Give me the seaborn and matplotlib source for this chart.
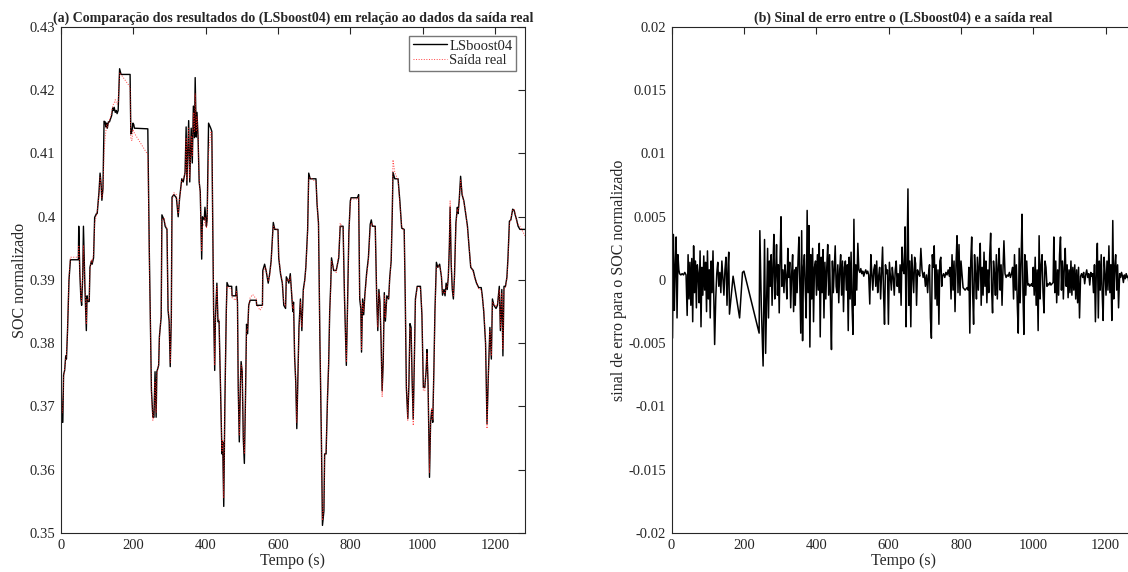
import numpy as np
import pandas as pd
import matplotlib
matplotlib.use("Agg")
import matplotlib.pyplot as plt
import seaborn as sns
from matplotlib.ticker import FuncFormatter, MultipleLocator

# ---------------- data: SOC (model vs real) ----------------
tempo = [0, 3, 5, 7, 10, 13, 15, 18, 22, 26,
         48, 49, 52, 55, 57, 60, 62, 66, 70, 72,
         74, 78, 80, 84, 86, 90, 93, 98, 100, 105,
         108, 111, 113, 116, 119, 122, 124, 126, 128, 131,
         134, 137, 140, 143, 145, 147, 150, 153, 155, 158,
         162, 166, 191, 193, 196, 199, 201, 203, 240, 244,
         250, 254, 257, 260, 263, 265, 270, 272, 277, 279,
         285, 288, 293, 296, 299, 302, 305, 307, 312, 319,
         324, 328, 334, 338, 343, 346, 348, 353, 356, 360,
         363, 366, 369, 371, 374, 376, 379, 382, 385, 389,
         391, 396, 398, 402, 404, 408, 414, 417, 422, 425,
         427, 431, 434, 437, 441, 445, 447, 450, 453, 457,
         459, 463, 472, 473, 483, 485, 488, 490, 493, 496,
         498, 501, 504, 507, 510, 513, 516, 519, 523, 530,
         540, 541, 550, 557, 558, 563, 567, 573, 577, 581,
         587, 591, 600, 602, 607, 612, 616, 621, 623, 627,
         630, 634, 638, 641, 643, 646, 649, 652, 655, 658,
         662, 666, 670, 674, 677, 682, 685, 689, 705, 708,
         712, 716, 720, 723, 727, 729, 733, 737, 740, 743,
         746, 748, 754, 761, 768, 772, 780, 784, 786, 789,
         792, 796, 800, 802, 820, 823, 826, 829, 831, 834,
         837, 840, 845, 850, 855, 858, 861, 869, 873, 876,
         879, 882, 885, 888, 891, 894, 897, 901, 906, 909,
         913, 916, 918, 923, 932, 937, 942, 949, 952, 955,
         959, 962, 965, 968, 971, 974, 977, 980, 985, 994,
         998, 1002, 1006, 1010, 1012, 1015, 1019, 1022, 1025, 1028,
         1031, 1034, 1038, 1042, 1047, 1052, 1055, 1059, 1062, 1065,
         1068, 1071, 1074, 1076, 1079, 1082, 1085, 1088, 1092, 1096,
         1098, 1101, 1105, 1109, 1114, 1119, 1124, 1128, 1133, 1140,
         1144, 1149, 1155, 1162, 1165, 1169, 1174, 1178, 1182, 1186,
         1190, 1193, 1197, 1203, 1207, 1212, 1215, 1219, 1222, 1225,
         1229, 1233, 1236, 1240, 1244, 1249, 1253, 1256, 1260, 1264,
         1269, 1283]

soc_lsboost = [0.374, 0.3675, 0.3675, 0.375, 0.3757, 0.378, 0.3775, 0.382, 0.390, 0.3932,
               0.3932, 0.3985, 0.391, 0.387, 0.386, 0.3905, 0.3985, 0.389, 0.382, 0.3875,
               0.3866, 0.3866, 0.392, 0.393, 0.3925, 0.3935, 0.3999, 0.4005, 0.4005, 0.4039,
               0.4069, 0.405, 0.4026, 0.4045, 0.4151, 0.415, 0.4142, 0.4148, 0.414, 0.415,
               0.415, 0.4155, 0.416, 0.4172, 0.4168, 0.4173, 0.4165, 0.4168, 0.4163, 0.4168,
               0.4234, 0.4225, 0.4225, 0.4131, 0.4135, 0.4148, 0.4146, 0.414, 0.4139, 0.395,
               0.3726, 0.3683, 0.3683, 0.3755, 0.3683, 0.3755, 0.3765, 0.381, 0.3842, 0.4003,
               0.3995, 0.3985, 0.398, 0.3852, 0.3835, 0.3763, 0.384, 0.4031, 0.4035, 0.403,
               0.400, 0.403, 0.406, 0.4055, 0.407, 0.4142, 0.405, 0.4152, 0.4055, 0.414,
               0.4085, 0.4175, 0.4125, 0.422, 0.4126, 0.4165, 0.4125, 0.4055, 0.404, 0.3933,
               0.400, 0.3995, 0.4015, 0.3985, 0.3995, 0.4148, 0.414, 0.4135, 0.385, 0.3757,
               0.384, 0.3895, 0.3834, 0.3835, 0.373, 0.3625, 0.3644, 0.3542, 0.370, 0.385,
               0.3896, 0.389, 0.389, 0.3875, 0.3875, 0.389, 0.3865, 0.3731, 0.3644, 0.3735,
               0.3771, 0.3755, 0.365, 0.361, 0.371, 0.383, 0.3815, 0.386, 0.3868, 0.3868,
               0.3868, 0.386, 0.386, 0.386, 0.3915, 0.3925, 0.3915, 0.3895, 0.391, 0.393,
               0.3991, 0.398, 0.398, 0.3935, 0.391, 0.3895, 0.386, 0.3855, 0.3905, 0.390,
               0.3895, 0.391, 0.3875, 0.385, 0.3865, 0.3778, 0.374, 0.3665, 0.3745, 0.3825,
               0.387, 0.382, 0.3885, 0.390, 0.392, 0.398, 0.4069, 0.406, 0.406, 0.402,
               0.399, 0.380, 0.365, 0.3512, 0.3535, 0.3625, 0.3625, 0.3715, 0.3765, 0.385,
               0.3895, 0.3935, 0.3915, 0.3915, 0.3935, 0.3985, 0.3985, 0.387, 0.383, 0.3765,
               0.385, 0.3975, 0.4025, 0.403, 0.403, 0.4035, 0.387, 0.3855, 0.3786, 0.387,
               0.3845, 0.3875, 0.391, 0.3935, 0.3988, 0.3995, 0.3985, 0.3985, 0.387, 0.382,
               0.3885, 0.3865, 0.3805, 0.3725, 0.377, 0.388, 0.3835, 0.3875, 0.387, 0.3904,
               0.393, 0.4005, 0.407, 0.406, 0.406, 0.4025, 0.3982, 0.398, 0.387, 0.373,
               0.3681, 0.3735, 0.3831, 0.3825, 0.374, 0.368, 0.377, 0.387, 0.389, 0.389,
               0.3845, 0.373, 0.373, 0.376, 0.379, 0.3735, 0.3588, 0.3675, 0.3694, 0.3675,
               0.3755, 0.385, 0.3928, 0.392, 0.3925, 0.3905, 0.3876, 0.3885, 0.3875, 0.3895,
               0.3885, 0.3905, 0.3955, 0.4015, 0.3925, 0.3885, 0.387, 0.3905, 0.399, 0.4015,
               0.4005, 0.4025, 0.4064, 0.4035, 0.4025, 0.4005, 0.3985, 0.3955, 0.392, 0.3915,
               0.3905, 0.3895, 0.3888, 0.3888, 0.3875, 0.385, 0.380, 0.3673, 0.3755, 0.3825,
               0.3775, 0.387, 0.386, 0.3855, 0.386, 0.389, 0.382, 0.3885, 0.378, 0.389,
               0.389, 0.3904, 0.3935, 0.3993, 0.3995, 0.4012, 0.401, 0.4003, 0.3995, 0.3985,
               0.398, 0.398]

soc_real = [0.372, 0.369, 0.370, 0.3745, 0.376, 0.3775, 0.378, 0.382, 0.3905, 0.3936,
            0.3936, 0.3955, 0.3915, 0.3875, 0.3865, 0.391, 0.3955, 0.3895, 0.383, 0.387,
            0.3868, 0.387, 0.3915, 0.3932, 0.3928, 0.394, 0.399, 0.4003, 0.4008, 0.4035,
            0.4062, 0.405, 0.403, 0.404, 0.410, 0.4125, 0.4135, 0.4145, 0.4142, 0.4148,
            0.4152, 0.4158, 0.4165, 0.4175, 0.4178, 0.418, 0.4185, 0.418, 0.4178, 0.418,
            0.4228, 0.4225, 0.4205, 0.4125, 0.412, 0.4138, 0.4135, 0.4132, 0.4098, 0.395,
            0.372, 0.3678, 0.369, 0.374, 0.369, 0.3748, 0.3768, 0.3805, 0.385, 0.3995,
            0.3998, 0.3988, 0.3982, 0.386, 0.384, 0.377, 0.3835, 0.4025, 0.4038, 0.4035,
            0.4005, 0.4028, 0.4058, 0.406, 0.4068, 0.4125, 0.4058, 0.414, 0.4062, 0.4128,
            0.4095, 0.4165, 0.4135, 0.4195, 0.4135, 0.4158, 0.4132, 0.406, 0.4035, 0.3945,
            0.3985, 0.3988, 0.400, 0.3982, 0.3988, 0.410, 0.4135, 0.4132, 0.386, 0.3765,
            0.3835, 0.389, 0.384, 0.3838, 0.3735, 0.363, 0.3648, 0.3555, 0.3695, 0.3845,
            0.389, 0.3888, 0.3885, 0.3872, 0.3868, 0.3882, 0.3862, 0.374, 0.3655, 0.373,
            0.3765, 0.376, 0.3655, 0.3625, 0.3705, 0.3822, 0.382, 0.3858, 0.3872, 0.3877,
            0.387, 0.3862, 0.3852, 0.3858, 0.3905, 0.392, 0.3918, 0.3898, 0.3905, 0.3928,
            0.3985, 0.3982, 0.3978, 0.394, 0.3912, 0.3898, 0.3865, 0.3858, 0.390, 0.3902,
            0.3898, 0.3905, 0.388, 0.3855, 0.386, 0.378, 0.3745, 0.3675, 0.374, 0.382,
            0.3865, 0.3825, 0.388, 0.3898, 0.3918, 0.3975, 0.406, 0.4062, 0.4055, 0.4025,
            0.3985, 0.381, 0.366, 0.352, 0.354, 0.362, 0.363, 0.371, 0.377, 0.3845,
            0.389, 0.393, 0.3918, 0.3912, 0.394, 0.399, 0.398, 0.3875, 0.3835, 0.377,
            0.3845, 0.397, 0.402, 0.4028, 0.4028, 0.403, 0.3875, 0.386, 0.379, 0.3865,
            0.385, 0.387, 0.3905, 0.393, 0.398, 0.399, 0.3988, 0.3982, 0.3875, 0.3825,
            0.388, 0.387, 0.381, 0.3715, 0.3775, 0.3875, 0.384, 0.387, 0.3872, 0.390,
            0.3935, 0.401, 0.409, 0.407, 0.4058, 0.402, 0.3985, 0.3975, 0.3875, 0.374,
            0.3678, 0.374, 0.3825, 0.382, 0.3745, 0.367, 0.3775, 0.3865, 0.3888, 0.3888,
            0.385, 0.3725, 0.3725, 0.3765, 0.3785, 0.374, 0.3595, 0.367, 0.3698, 0.368,
            0.375, 0.3845, 0.392, 0.3922, 0.3922, 0.3908, 0.388, 0.3882, 0.3878, 0.389,
            0.389, 0.390, 0.396, 0.4025, 0.393, 0.389, 0.3875, 0.390, 0.3985, 0.4012,
            0.4008, 0.402, 0.4058, 0.404, 0.4022, 0.4008, 0.398, 0.3958, 0.3922, 0.3912,
            0.3902, 0.3898, 0.3885, 0.3885, 0.3872, 0.3855, 0.3805, 0.3665, 0.375, 0.382,
            0.378, 0.3865, 0.3862, 0.3858, 0.3862, 0.3885, 0.3825, 0.388, 0.379, 0.3885,
            0.3888, 0.3902, 0.393, 0.3988, 0.3998, 0.401, 0.4012, 0.4005, 0.3992, 0.3988,
            0.3985, 0.397]

# ---------------- data: error signal (units of 1e-4) ----------------
erro_seg_intervalos = [(0, 20), (22, 40), (43, 117), (122, 156), (263, 305), (308, 340),
                       (342, 395), (398, 455), (457, 512), (515, 545), (551, 640),
                       (643, 680), (683, 705), (708, 747), (749, 768), (770, 803),
                       (806, 820), (822, 919), (922, 940), (943, 982), (985, 998),
                       (1000, 1038), (1040, 1055), (1057, 1128), (1131, 1162),
                       (1164, 1236), (1239, 1283)]
erro_seg_valores = [
    [24, -46, 36, -24, 10, 34, -30, 20, 8],
    [5, 4, 5, 4, 6, 4],
    [-28, 20, -15, 14, -20, 17, -33, 27, -10, 15, -22, 12, 5, -18, 23, -37, 10, -12, 19, -8,
     14, -25, 23, -15, 8, -30, 15, -10, 23, -20],
    [-15, 5, 14, -5, 6, -10, 15, 2, -12, 8, 18, -20, 10],
    [-10, 25, -30, 15, -5, 20, -20, 10, 36, -15, 5, 28, -12, 12, -26, 18, 50, -5],
    [8, -10, 12, 3, -15, 25, 2, 14, -22, 5, 20, -25, 8],
    [-20, 10, -10, 15, 34, -5, -42, 39, -48, 10, 20, -8, -30, 55, -10, 43, -53, 20, -15, 25,
     -33, 10],
    [15, -12, 20, -8, 29, -45, 18, -10, 24, -30, 14, -15, 10, 28, -12, 20, -20, -55, 15, -10,
     8, 27, -5],
    [-10, 12, -18, 8, 20, -12, 15, -25, 10, 15, -8, 12, -40, 18, -15, 22, -20, -43, 48, -20,
     12, -8],
    [29, 8, 6, 9, 5, 7, 3, 6, 8, 5, 7, 4],
    [20, 5, -8, 8, 12, -5, 15, -10, 3, 10, -15, 5, 26, -10, -35, 12, 5, 8, -35, 14,
     3, -8, 10, 2, -12, 8, 15, -5, 5, -10, 12, -20, 26, 8],
    [5, 42, -37, 10, 72, -20, 15, -37, 20, 5, -10, 18, 13, -20, 8],
    [5, 3, 25, 8, 2, 6, -5, 4],
    [-10, 5, 12, -30, -46, 20, 10, 27, -15, 12, -20, 8, -35, 15, 18, -5],
    [3, 5, 2, 6, 4, 8, 3],
    [10, -15, 20, -8, 15, -25, 12, 35, -10, 28, -12, 15, 5],
    [-6, -7, -8, -7, -6, -8],
    [10, -42, 15, 34, -10, -35, 20, 5, -15, 18, -8, 12, 29, -20, 10, -12, 22, -5, 15, -18,
     8, -10, 20, 37, -8, -26, 15, 5, -12, 20, -15, 10, 25, -8, 12, -20, 8, 31],
    [5, 2, 4, 3, 6, 2, 5],
    [10, -15, 20, -8, 12, -20, -42, 25, -18, 15, 52, -10, -43, 20, -12, 15],
    [-4, -3, -5, -4, -3, -5],
    [10, -12, 18, -20, 8, -40, 35, -15, 12, 20, -10, -26, 15, 10, -5],
    [-3, -4, -2, -4, -3, -2],
    [34, -10, 15, -18, 8, -12, 20, 34, -8, 15, -15, 10, 25, -5, 12, -14, 8, -10, 15, -12,
     10, -8, 12, -15, 8, -18, 10, -30],
    [3, 5, 2, 6, -3, 4, 8, 2, 5, -4, 6, 3],
    [5, -10, 12, -33, 10, 29, -30, 15, -8, 20, -10, -32, 18, 5, -12, 15, -8, 27, -10, 12,
     -32, 47, -15, 10, 20, -8, 12, -22],
    [5, 2, 6, 3, -2, 4, 1, 5, 2, 3, -3, 4, 2, 6, 3, 1, 4, 2],
]
erro_pontos_t = [119, 158, 160, 170, 188, 196, 200, 242, 244, 248, 253, 257, 260, 548]
erro_pontos_v = [-51, 22, -27, 3, -30, 6, 7, -42, 39, -20, -68, 32, -58, -19]

# assemble error series
et, ev = [], []
for (t0, t1), vals in zip(erro_seg_intervalos, erro_seg_valores):
    et.extend(np.linspace(t0, t1, len(vals)))
    ev.extend(vals)
et.extend(erro_pontos_t)
ev.extend(erro_pontos_v)
df_err = pd.DataFrame({"t": et, "e": np.array(ev) * 1e-4}).sort_values("t")

df_soc = pd.DataFrame({"t": tempo, "m": soc_lsboost, "r": soc_real})

# ---------------- style ----------------
sns.set_theme(style="white")
plt.rcParams['font.family'] = ['Liberation Serif', 'DejaVu Serif']
plt.rcParams['axes.unicode_minus'] = False

fig = plt.figure(figsize=(11.28, 5.72), dpi=100)
ax1 = fig.add_axes([0.0541, 0.0682, 0.4113, 0.8846])
ax2 = fig.add_axes([0.5954, 0.0682, 0.4113, 0.8846])

sns.lineplot(data=df_soc, x="t", y="m", ax=ax1, color="black", lw=1.0,
             label="LSboost04", estimator=None, sort=False)
sns.lineplot(data=df_soc, x="t", y="r", ax=ax1, color="#ff2020", lw=0.7, linestyle=":",
             alpha=0.85, label="Saída real", estimator=None, sort=False)

sns.lineplot(data=df_err, x="t", y="e", ax=ax2, color="black", lw=1.1,
             estimator=None, sort=False)

fmt = FuncFormatter(lambda v, p: f"{v:g}" if abs(v) > 1e-12 else "0")
txtc = "#262626"
for ax in (ax1, ax2):
    ax.set_xlim(0, 1283)
    ax.xaxis.set_major_locator(MultipleLocator(200))
    ax.tick_params(direction="in", top=True, right=True, length=5, width=0.8,
                   labelsize=10.5, colors=txtc, pad=4)
    for s in ax.spines.values():
        s.set_color(txtc)
        s.set_linewidth(0.8)
    ax.set_xlabel("Tempo (s)", fontsize=11.5, color=txtc, labelpad=1)
    ax.yaxis.set_major_formatter(fmt)

ax1.set_ylim(0.35, 0.43)
ax1.yaxis.set_major_locator(MultipleLocator(0.01))
ax1.set_ylabel("SOC normalizado", fontsize=11.5, color=txtc, labelpad=1)
ax1.set_title("(a) Comparação dos resultados do (LSboost04) em relação ao dados da saída real",
              fontsize=10, fontweight="bold", color=txtc, pad=4)
leg = ax1.legend(loc="upper right", frameon=True, fancybox=False, fontsize=10.5,
                 borderpad=0.25, handlelength=2.3, handletextpad=0.2, labelspacing=0.1,
                 borderaxespad=0.6)
leg.get_frame().set_edgecolor("#555555")
leg.get_frame().set_linewidth(1.0)

ax2.set_ylim(-0.02, 0.02)
ax2.yaxis.set_major_locator(MultipleLocator(0.005))
ax2.set_ylabel("sinal de erro para o SOC normalizado", fontsize=11.5, color=txtc, labelpad=1)
ax2.set_title("(b) Sinal de erro entre o (LSboost04) e a saída real",
              fontsize=10, fontweight="bold", color=txtc, pad=4)

fig.savefig("out.png", dpi=100)
